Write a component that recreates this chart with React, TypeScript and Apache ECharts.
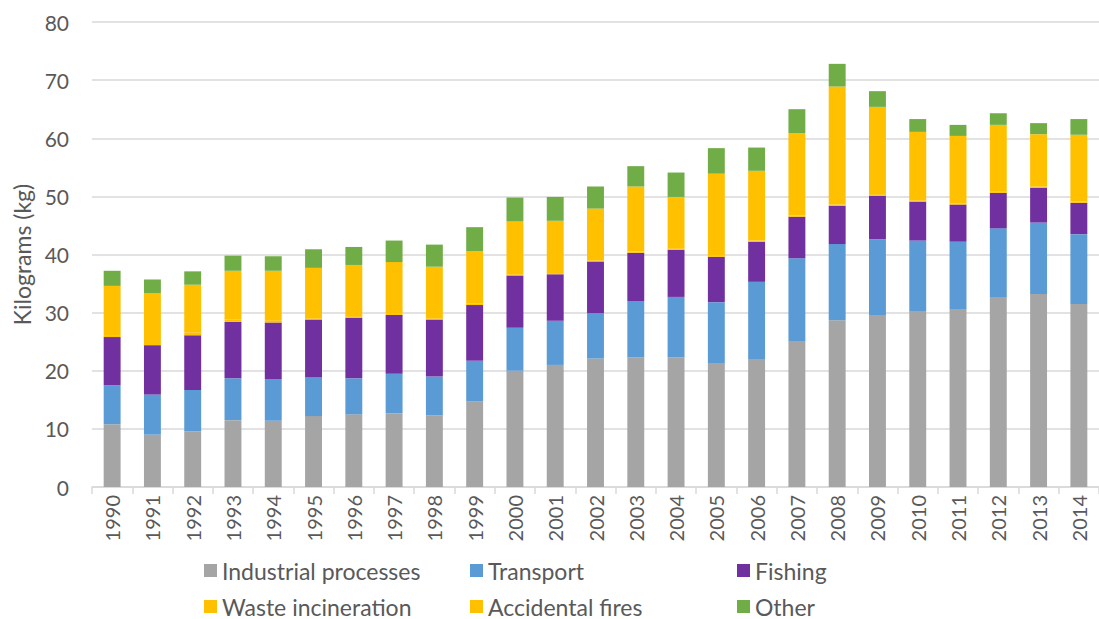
import React, { useEffect, useRef } from "react";
import * as echarts from "echarts";

const years = ["1990","1991","1992","1993","1994","1995","1996","1997","1998","1999","2000","2001","2002","2003","2004","2005","2006","2007","2008","2009","2010","2011","2012","2013","2014"];
const industrial = [10.8,9.0,9.6,11.5,11.4,12.2,12.5,12.7,12.3,14.7,20.0,21.0,22.1,22.3,22.3,21.2,21.9,25.1,28.7,29.6,30.3,30.5,32.7,33.2,31.5];
const transport = [6.7,6.9,7.1,7.2,7.2,6.7,6.2,6.8,6.7,7.0,7.4,7.6,7.8,9.7,10.4,10.6,13.4,14.25,13.1,13.0,12.1,11.7,11.8,12.3,12.0];
const fishing = [8.3,8.5,9.4,9.7,9.7,9.9,10.4,10.1,9.8,9.6,9.0,8.0,8.9,8.3,8.1,7.8,6.9,7.15,6.6,7.5,6.7,6.4,6.1,6.0,5.4];
const wasteIncineration = [0.2,0.2,0.5,0.4,0.4,0.2,0.3,0.2,0.2,0.3,0.2,0.2,0.2,0.2,0.2,0.2,0.2,0.2,0.2,0.2,0.2,0.2,0.2,0.2,0.2];
const accidentalFires = [8.6,8.7,8.2,8.4,8.5,8.7,8.8,8.9,8.9,9.0,9.1,9.0,8.9,11.2,8.9,14.1,12.0,14.2,20.3,15.1,11.8,11.6,11.5,9.0,11.5];
const other = [2.6,2.4,2.3,2.6,2.5,3.2,3.1,3.7,3.8,4.1,4.1,4.1,3.8,3.5,4.2,4.4,4.0,4.1,3.9,2.7,2.2,1.9,2.0,1.9,2.7];

const seriesNames = ["Industrial processes","Transport","Fishing","Waste incineration","Accidental fires","Other"];
const seriesData = [industrial, transport, fishing, wasteIncineration, accidentalFires, other];
const seriesColors = ["#A5A5A5","#5B9BD5","#7030A0","#FFC000","#FFC000","#70AD47"];

const FONT = "Lato, 'Open Sans', sans-serif";
const TEXT_COLOR = "#595959";

export default function App() {
  const ref = useRef<HTMLDivElement>(null);
  useEffect(() => {
    if (!ref.current) return;
    const chart = echarts.init(ref.current, null, { renderer: "svg" });
    const legendLefts = [204, 470, 737];
    const legendTops = [559, 595];
    const legends = seriesNames.map((name, i) => ({
      data: [name],
      left: legendLefts[i % 3],
      top: legendTops[Math.floor(i / 3)],
      padding: 0,
      icon: "rect",
      itemWidth: 13,
      itemHeight: 13,
      itemGap: 8,
      selectedMode: false,
      textStyle: { fontSize: 23, color: TEXT_COLOR, fontFamily: FONT },
    }));
    chart.setOption({
      animation: false,
      backgroundColor: "#ffffff",
      textStyle: { fontFamily: FONT },
      grid: { left: 92, right: 0, top: 22, bottom: 132, containLabel: false },
      legend: legends,
      xAxis: {
        type: "category",
        data: years,
        axisLine: { show: true, lineStyle: { color: "#D9D9D9", width: 1.5 } },
        axisTick: { show: true, alignWithLabel: false, length: 7, lineStyle: { color: "#D9D9D9", width: 1.5 } },
        axisLabel: { rotate: 90, fontSize: 20, color: TEXT_COLOR, margin: 8, fontFamily: FONT },
      },
      yAxis: {
        type: "value",
        min: 0,
        max: 80,
        interval: 10,
        name: "Kilograms (kg)",
        nameLocation: "middle",
        nameGap: 59,
        nameTextStyle: { fontSize: 23, color: TEXT_COLOR, fontFamily: FONT },
        axisLine: { show: false },
        axisTick: { show: false },
        axisLabel: { fontSize: 21, color: TEXT_COLOR, margin: 23, fontFamily: FONT },
        splitLine: { lineStyle: { color: "#D9D9D9", width: 1.5 } },
      },
      series: seriesNames.map((name, i) => ({
        name,
        type: "bar",
        stack: "total",
        barWidth: "42%",
        data: seriesData[i],
        itemStyle: { color: seriesColors[i] },
      })),
    });
    return () => chart.dispose();
  }, []);
  return (
    <div
      ref={ref}
      style={{ position: "absolute", left: 0, top: 0, width: 1099, height: 619 }}
    />
  );
}
